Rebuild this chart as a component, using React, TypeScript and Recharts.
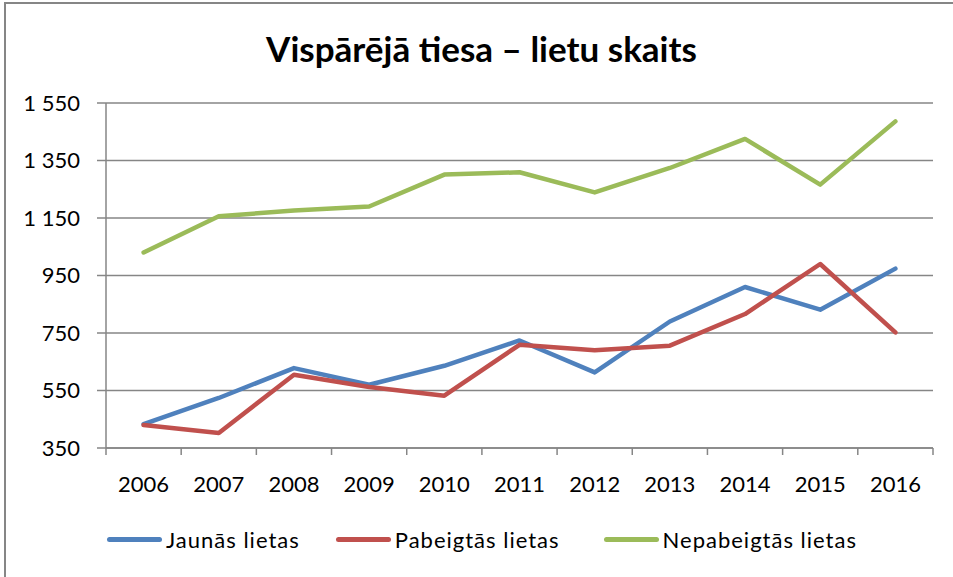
import { LineChart, Line, XAxis, YAxis, CartesianGrid, Legend } from "recharts";

const years = ["2006", "2007", "2008", "2009", "2010", "2011", "2012", "2013", "2014", "2015", "2016"];
const jaunas = [433, 524, 628, 570, 636, 724, 613, 790, 910, 831, 974];
const pabeigtas = [430, 402, 605, 562, 532, 709, 690, 706, 816, 990, 752];
const nepabeigtas = [1030, 1156, 1176, 1190, 1301, 1309, 1239, 1324, 1425, 1266, 1486];
const yTicks = [350, 550, 750, 950, 1150, 1350, 1550];
const seriesNames = ["Jaunās lietas", "Pabeigtās lietas", "Nepabeigtās lietas"];
const seriesColors = ["#4F81BD", "#C0504D", "#9BBB59"];

const data = years.map((year, i) => ({
  year,
  [seriesNames[0]]: jaunas[i],
  [seriesNames[1]]: pabeigtas[i],
  [seriesNames[2]]: nepabeigtas[i],
}));

const FONT = "Lato, 'Noto Sans', sans-serif";
const AXIS = "#868686";
const HALF_STEP = 37.6;

function fmt(v: number) {
  return String(v).replace(/\B(?=(\d{3})+(?!\d))/g, " ");
}

const YearTick = (props: any) => {
  const { x, y, payload, index, visibleTicksCount } = props;
  return (
    <g>
      <line x1={x - HALF_STEP} y1={y} x2={x - HALF_STEP} y2={y + 7} stroke={AXIS} strokeWidth={1.5} />
      {index === visibleTicksCount - 1 && (
        <line x1={x + HALF_STEP} y1={y} x2={x + HALF_STEP} y2={y + 7} stroke={AXIS} strokeWidth={1.5} />
      )}
      <text x={x} y={y + 44} textAnchor="middle" fontFamily={FONT} fontSize={22} fill="#000">
        {payload.value}
      </text>
    </g>
  );
};

const LegendBox = () => {
  const gaps = [36, 44, 0];
  return (
    <div style={{ display: "flex", alignItems: "center", height: 30, paddingLeft: 107, fontFamily: FONT, fontSize: 22 }}>
      {seriesNames.map((name, i) => (
        <div key={name} style={{ display: "flex", alignItems: "center", marginRight: gaps[i] }}>
          <span style={{ display: "inline-block", width: 55, height: 5, borderRadius: 3, background: seriesColors[i], marginRight: 4 }} />
          <span style={{ letterSpacing: 1, color: "#000" }}>{name}</span>
        </div>
      ))}
    </div>
  );
};

export default function App() {
  return (
    <div style={{ position: "relative", width: 953, height: 577, background: "#fff" }}>
      <style>{"body{margin:0}"}</style>
      <div
        style={{
          position: "absolute",
          left: 4,
          top: 2,
          width: 949,
          height: 575,
          borderTop: `2px solid ${AXIS}`,
          borderLeft: `2px solid ${AXIS}`,
          boxSizing: "border-box",
        }}
      />
      <div
        style={{
          position: "absolute",
          left: 0,
          width: 963,
          top: 27,
          textAlign: "center",
          fontFamily: FONT,
          fontWeight: 700,
          fontSize: 35,
          color: "#000",
        }}
      >
        Vispārējā tiesa – lietu skaits
      </div>
      <LineChart width={953} height={577} data={data} margin={{ top: 103, right: 20, bottom: 23, left: 0 }}>
        <CartesianGrid vertical={false} stroke={AXIS} strokeWidth={1.5} />
        <XAxis
          dataKey="year"
          padding={{ left: HALF_STEP, right: HALF_STEP }}
          height={76}
          tickLine={false}
          tickSize={0}
          tickMargin={0}
          axisLine={{ stroke: AXIS, strokeWidth: 1.5 }}
          tick={<YearTick />}
          interval={0}
        />
        <YAxis
          width={106}
          domain={[350, 1550]}
          ticks={yTicks}
          tickFormatter={fmt}
          tickSize={9}
          tickMargin={17}
          axisLine={{ stroke: AXIS, strokeWidth: 1.5 }}
          tickLine={{ stroke: AXIS, strokeWidth: 1.5 }}
          tick={{ fill: "#000", fontSize: 22, fontFamily: FONT }}
          interval={0}
        />
        <Legend verticalAlign="bottom" content={<LegendBox />} />
        {seriesNames.map((name, i) => (
          <Line
            key={name}
            type="linear"
            dataKey={name}
            stroke={seriesColors[i]}
            strokeWidth={4.5}
            dot={false}
            isAnimationActive={false}
            strokeLinejoin="round"
            strokeLinecap="round"
          />
        ))}
      </LineChart>
    </div>
  );
}
